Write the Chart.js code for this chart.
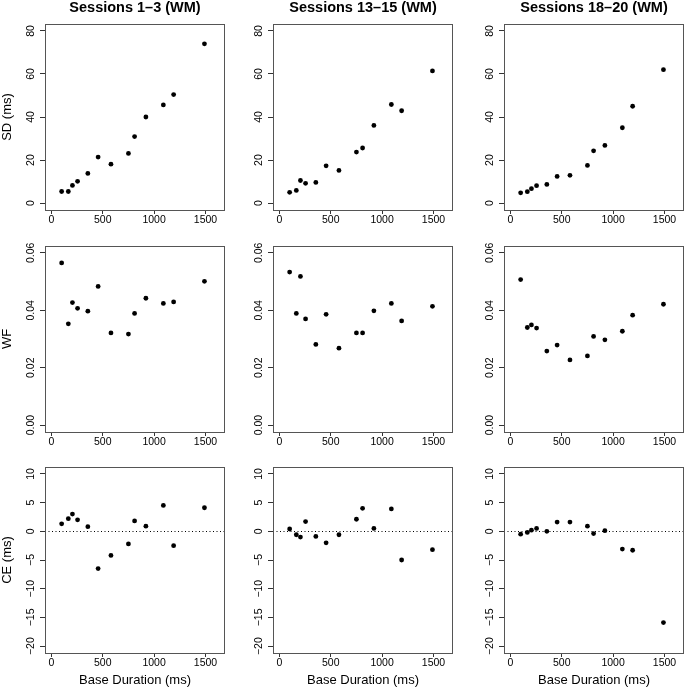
<!DOCTYPE html>
<html>
<head>
<meta charset="utf-8">
<script src="https://cdn.jsdelivr.net/npm/chart.js@4"></script>
<style>
  html, body { margin: 0; padding: 0; background: #fff; overflow: hidden; }
  #wrap { position: relative; width: 685px; height: 691px; }
  canvas { position: absolute; }
</style>
</head>
<body>
<div id="wrap"></div>
<script>
// base durations (ms), same for every panel
const durations = [100, 165, 205, 255, 355, 455, 580, 750, 810, 920, 1090, 1190, 1490];

// SD (ms)
const sd1 = [5.4, 5.4, 8.2, 10.1, 13.8, 21.4, 18.1, 23.1, 30.9, 40.0, 45.6, 50.4, 74.0];
const sd2 = [5.0, 5.9, 10.5, 9.2, 9.6, 17.3, 15.2, 23.7, 25.6, 36.1, 45.8, 42.9, 61.4];
const sd3 = [4.8, 5.3, 6.7, 8.1, 8.7, 12.4, 12.9, 17.5, 24.3, 26.8, 35.0, 45.0, 62.0];

// WF
const wf1 = [0.0565, 0.0353, 0.0427, 0.0407, 0.0397, 0.0483, 0.0321, 0.0317, 0.0389, 0.0442, 0.0424, 0.0429, 0.0501];
const wf2 = [0.0533, 0.0389, 0.0518, 0.0370, 0.0281, 0.0386, 0.0268, 0.0321, 0.0321, 0.0398, 0.0424, 0.0363, 0.0414];
const wf3 = [0.0507, 0.0340, 0.0349, 0.0338, 0.0258, 0.0279, 0.0227, 0.0241, 0.0309, 0.0297, 0.0327, 0.0383, 0.0421];

// CE (ms)
const ce1 = [1.3, 2.2, 3.0, 2.0, 0.8, -6.5, -4.2, -2.2, 1.8, 0.9, 4.5, -2.5, 4.1];
const ce2 = [0.4, -0.6, -1.0, 1.7, -0.9, -2.0, -0.6, 2.1, 4.0, 0.5, 3.9, -5.0, -3.2];
const ce3 = [-0.5, -0.2, 0.2, 0.5, 0.0, 1.6, 1.6, 0.9, -0.4, 0.1, -3.1, -3.3, -15.9];

const sessionTitles = ["Sessions 1\u20133 (WM)", "Sessions 13\u201315 (WM)", "Sessions 18\u201320 (WM)"];
const rowTitles = ["SD (ms)", "WF", "CE (ms)"];
const xTitle = "Base Duration (ms)";

const xTicks = [0, 500, 1000, 1500];
const sdTicks = [0, 20, 40, 60, 80];
const wfTicks = [0, 0.02, 0.04, 0.06];
const ceTicks = [-20, -15, -10, -5, 0, 5, 10];

const panelData = [
    [sd1, sd2, sd3],
    [wf1, wf2, wf3],
    [ce1, ce2, ce3]
];
const rowTicks = [sdTicks, wfTicks, ceTicks];
const rowMin = [-3.2, -0.0024, -21.2];
const rowMax = [83.2, 0.0624, 11.2];

// layout of the 3x3 grid
const colLeft = [0, 228, 459];
const rowTop = [0, 230, 451];
const padTop = [24, 16, 16];
const xAxisH = [20, 19, 40];
const yAxisW = 45;
const boxW = 180, boxH = 186;
const tickPad = [3.2, -1.2, 0.1];

Chart.defaults.font.family = "'Liberation Sans', Arial, sans-serif";
Chart.defaults.color = "#000";

function fmtY(row, v) {
    if (row === 1) return v.toFixed(2);
    if (v < 0) return "\u2212" + Math.abs(v);
    return String(v);
}

// R-ish panel box, zero line and column titles
const rStyle = {
    id: "rStyle",
    beforeDatasetsDraw(chart, args, opts) {
        if (!opts.zeroLine) return;
        const a = chart.chartArea, ctx = chart.ctx;
        const y = Math.round(chart.scales.y.getPixelForValue(0)) + 0.5;
        ctx.save();
        ctx.strokeStyle = "#000";
        ctx.lineWidth = 1;
        ctx.setLineDash([1, 2.5]);
        ctx.beginPath();
        ctx.moveTo(a.left, y);
        ctx.lineTo(a.right, y);
        ctx.stroke();
        ctx.restore();
    },
    afterDraw(chart, args, opts) {
        const a = chart.chartArea, ctx = chart.ctx;
        ctx.save();
        ctx.strokeStyle = "#555";
        ctx.lineWidth = 1;
        ctx.strokeRect(Math.round(a.left) + 0.5, Math.round(a.top) + 0.5,
            Math.round(a.right - a.left) - 1, Math.round(a.bottom - a.top));
        if (opts.title) {
            ctx.fillStyle = "#000";
            ctx.font = "bold 14.5px 'Liberation Sans', Arial, sans-serif";
            ctx.textAlign = "center";
            ctx.textBaseline = "middle";
            ctx.fillText(opts.title, (a.left + a.right) / 2, 8);
        }
        ctx.restore();
    }
};

const wrap = document.getElementById("wrap");

for (let r = 0; r < 3; r++) {
    for (let c = 0; c < 3; c++) {
        const cv = document.createElement("canvas");
        const w = yAxisW + boxW + 4;
        const h = padTop[r] + boxH + xAxisH[r];
        cv.width = w;
        cv.height = h;
        cv.style.left = colLeft[c] + "px";
        cv.style.top = rowTop[r] + "px";
        wrap.appendChild(cv);

        const pts = durations.map((d, i) => ({ x: d, y: panelData[r][c][i] }));

        new Chart(cv, {
            type: "scatter",
            data: {
                datasets: [{
                    data: pts,
                    pointRadius: 2.4,
                    pointBackgroundColor: "#000",
                    pointBorderWidth: 0
                }]
            },
            options: {
                responsive: false,
                animation: false,
                events: [],
                layout: { padding: { top: padTop[r], right: 4, left: 0, bottom: 0 } },
                plugins: {
                    legend: { display: false },
                    tooltip: { enabled: false },
                    rStyle: {
                        zeroLine: r === 2,
                        title: r === 0 ? sessionTitles[c] : null
                    }
                },
                scales: {
                    x: {
                        type: "linear",
                        min: -62,
                        max: 1690,
                        afterBuildTicks: s => { s.ticks = xTicks.map(v => ({ value: v })); },
                        afterFit: s => { s.height = xAxisH[r]; },
                        border: { display: false },
                        grid: { drawOnChartArea: false, tickLength: 4, tickColor: "#333" },
                        ticks: {
                            padding: 0,
                            font: { size: 10.5 },
                            maxRotation: 0,
                            callback: v => String(v)
                        },
                        title: {
                            display: r === 2,
                            text: xTitle,
                            font: { size: 13 },
                            padding: { top: 0, bottom: 5 }
                        }
                    },
                    y: {
                        type: "linear",
                        min: rowMin[r],
                        max: rowMax[r],
                        afterBuildTicks: s => { s.ticks = rowTicks[r].map(v => ({ value: v })); },
                        afterFit: s => { s.width = yAxisW; },
                        border: { display: false },
                        grid: { drawOnChartArea: false, tickLength: 5, tickColor: "#333" },
                        ticks: {
                            minRotation: 90,
                            maxRotation: 90,
                            crossAlign: "center",
                            padding: tickPad[r],
                            font: { size: 10.5 },
                            callback: v => fmtY(r, v)
                        },
                        title: {
                            display: c === 0,
                            text: rowTitles[r],
                            font: { size: 13 },
                            padding: { top: 0, bottom: 0 }
                        }
                    }
                }
            },
            plugins: [rStyle]
        });
    }
}
</script>
</body>
</html>
